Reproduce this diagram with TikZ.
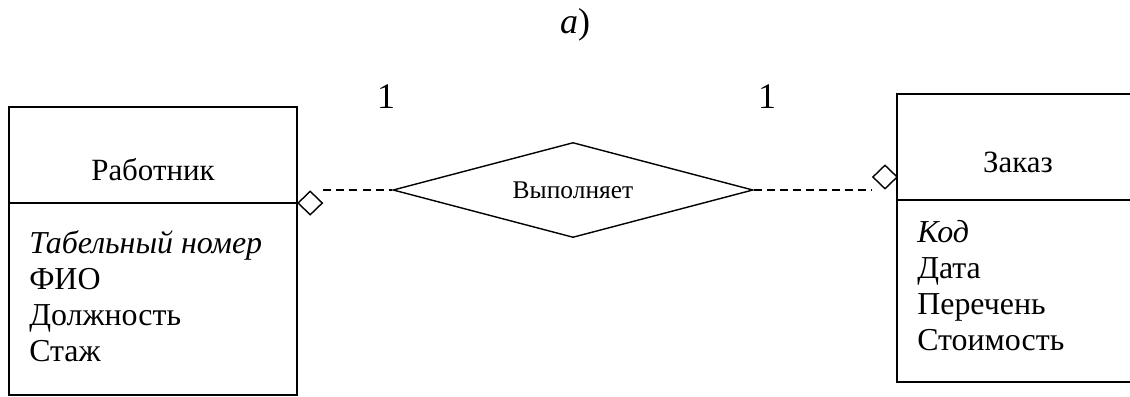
\documentclass[tikz,border=0pt]{standalone}
\usepackage{fontspec}
\setmainfont{Liberation Serif}
\usepackage{tikz}
\usetikzlibrary{shapes.geometric, positioning}

\begin{document}
\begin{tikzpicture}[x=0.025cm, y=-0.025cm,
		entbox/.style={draw, line width=1.3pt, inner sep=0pt, outer sep=0pt},
		title/.style={font=\fontsize{22pt}{25.6pt}\selectfont},
		attrs/.style={font=\fontsize{22.7pt}{25.6pt}\selectfont, align=left, inner sep=0pt},
		rel/.style={draw, diamond, aspect=3.8, line width=1pt, minimum width=9cm, minimum height=2.375cm, inner sep=0pt, font=\fontsize{18.1pt}{21pt}\selectfont},
		linkmark/.style={draw, diamond, line width=1pt, fill=white, minimum width=0.62cm, minimum height=0.6cm, inner sep=0pt},
		card/.style={font=\fontsize{25.6pt}{30pt}\selectfont, inner sep=0pt},
		link/.style={dashed, line width=1.3pt, dash pattern=on 5.7pt off 3.6pt}]
		\clip (0,0) rectangle (1130,396);

		% Caption
		\node[card, anchor=base] (caption) at (575,33) {\textit{a})};

		% Entity Rabotnik
		\node[entbox, minimum width=7.2cm, minimum height=2.4cm, anchor=north west] (rabhead) at (9,107) {};
		\node[entbox, minimum width=7.2cm, minimum height=4.8cm, below=0pt of rabhead] (rabbody) {};
		\node[title, anchor=base] (rabname) at (153,180) {Работник};
		% base of a multi-line node = its last line
		\node[attrs, anchor=base west] (rabattr) at (29,361) {\textit{Табельный номер}\\ФИО\\Должность\\Стаж};

		% Entity Zakaz
		\node[entbox, minimum width=6.05cm, minimum height=2.65cm, anchor=north west] (zakhead) at (897,94) {};
		\node[entbox, minimum width=6.05cm, minimum height=4.55cm, below=0pt of zakhead] (zakbody) {};
		\node[title, anchor=base] (zakname) at (1018,172) {Заказ};
		\node[attrs, anchor=base west] (zakattr) at (917,350) {\textit{Код}\\Дата\\Перечень\\Стоимость};

		% Relationship
		\node[rel] (vyp) at (573,190) {Выполняет};

		% Link markers
		\node[linkmark, anchor=west] (rabmark) at (rabhead.south east) {};
		\node[linkmark] (zakmark) at (885,177) {};

		% Links
		\draw[link] (vyp.west -| rabmark.east) -- (vyp.west);
		\draw[link] (vyp.east) -- (vyp.east -| zakmark.west);

		% Cardinalities
		\node[card, anchor=base] (card1) at (386,108) {1};
		\node[card, anchor=base] (card2) at (767,108) {1};

	\end{tikzpicture}
\end{document}
